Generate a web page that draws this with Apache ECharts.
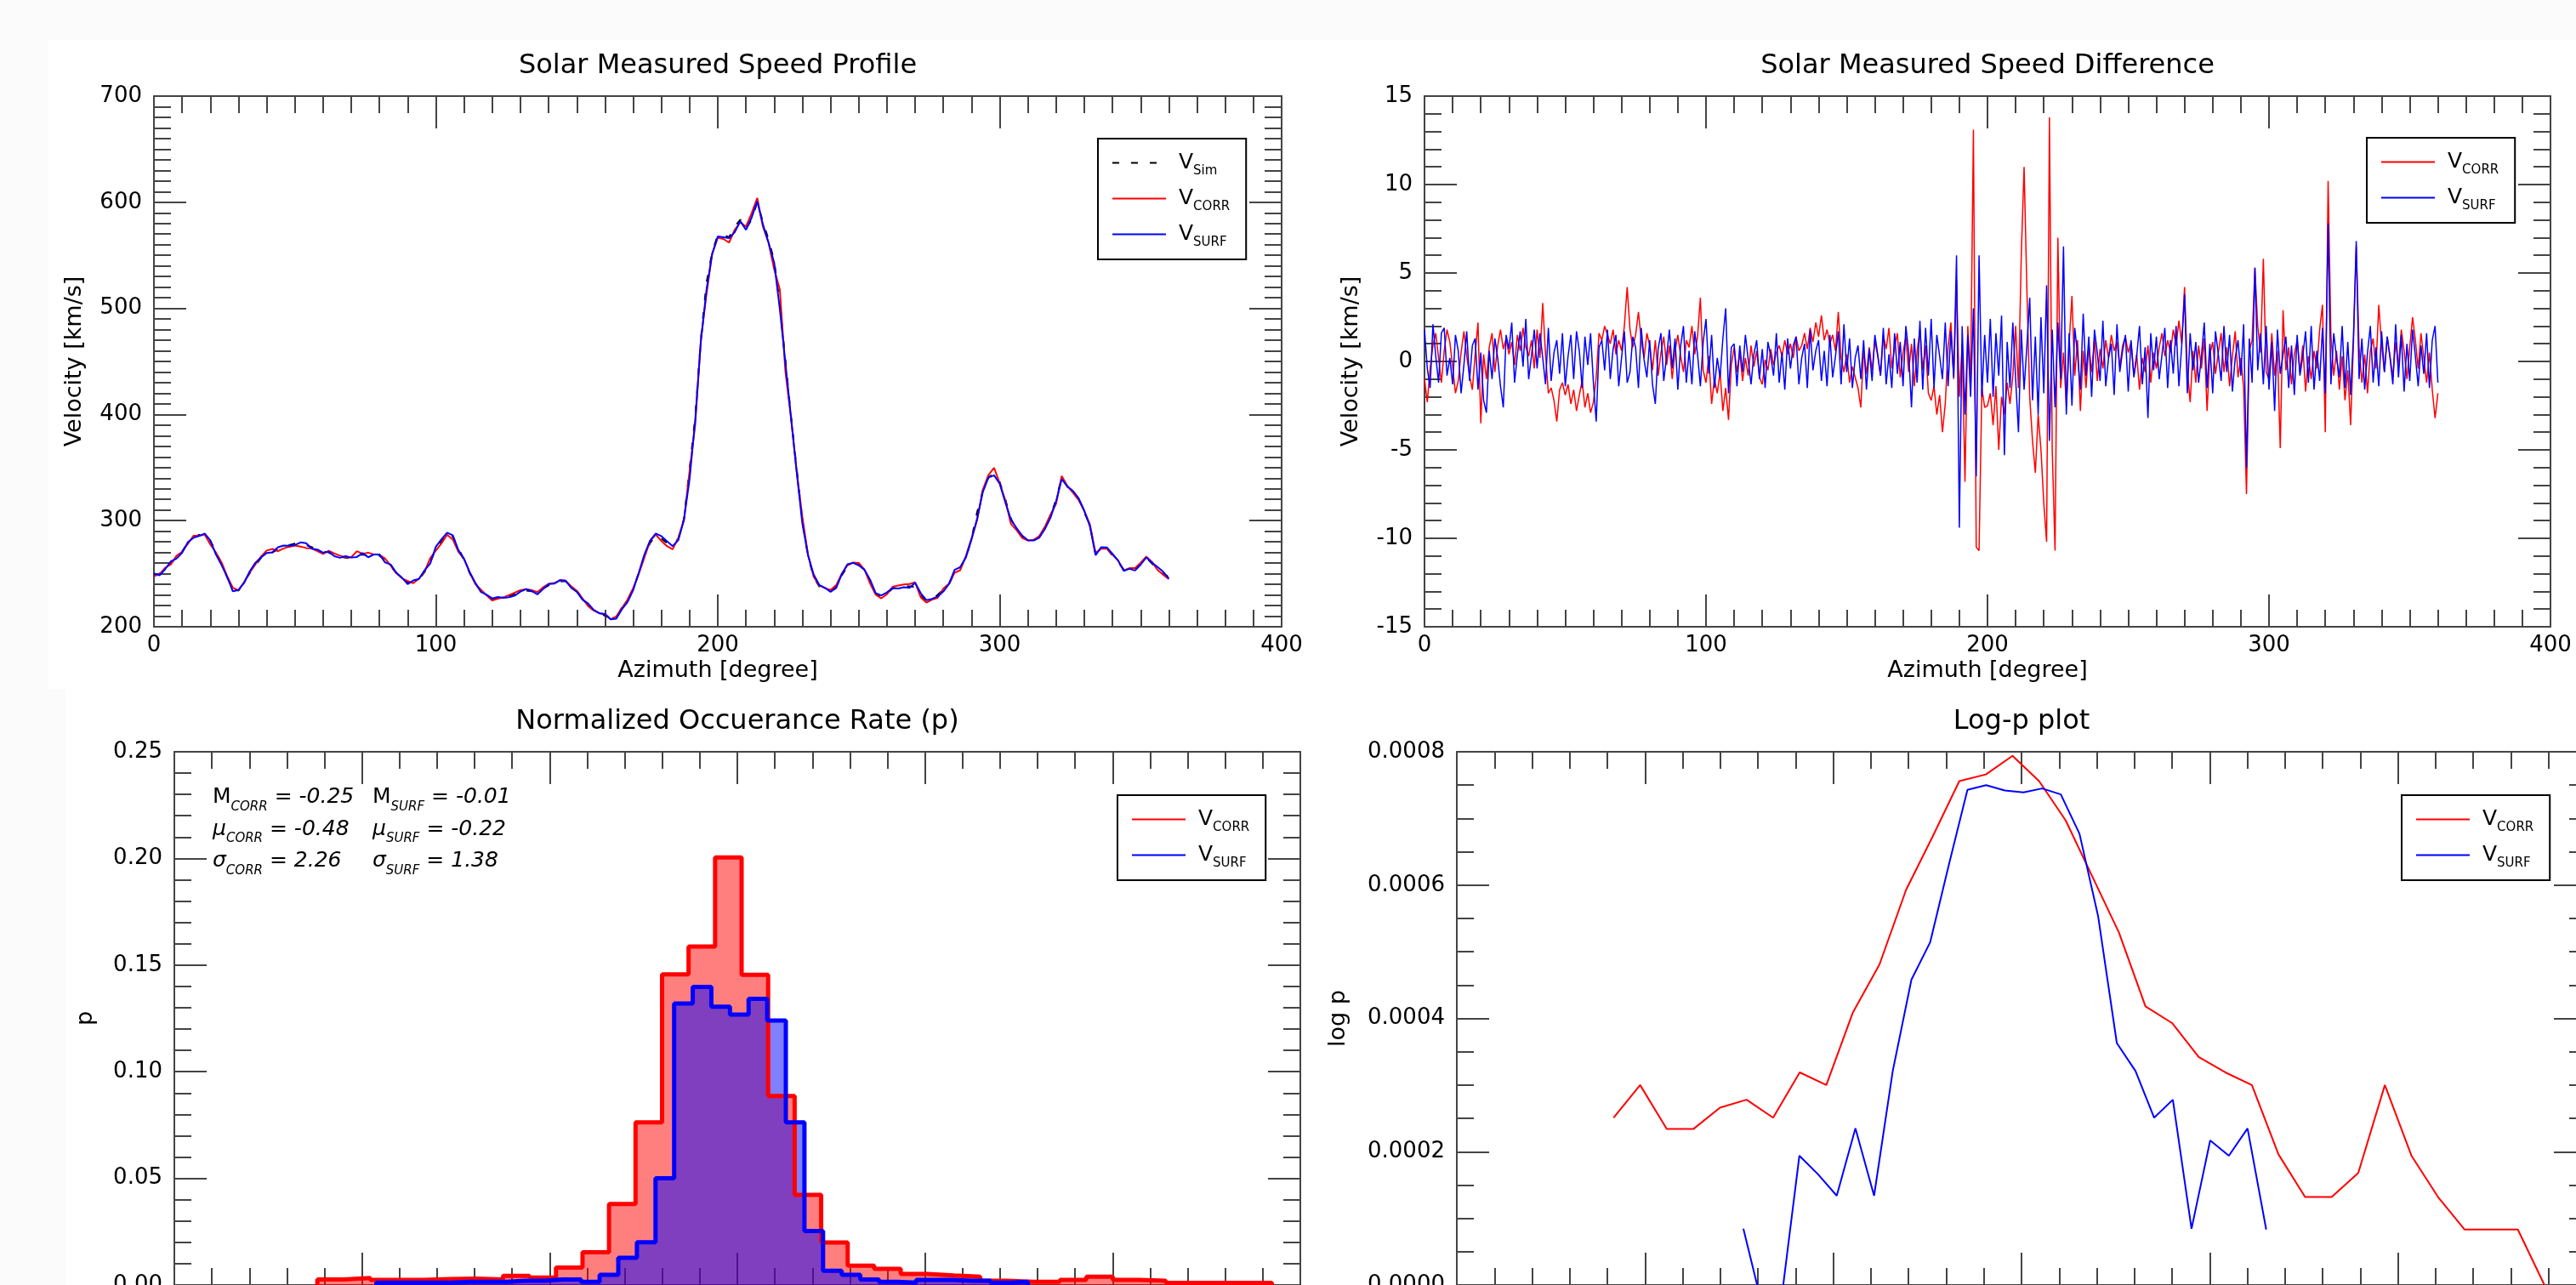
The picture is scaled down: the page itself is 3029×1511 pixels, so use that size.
<!DOCTYPE html>
<html>
<head>
<meta charset="utf-8">
<title>Solar Measured Speed</title>
<script src="https://cdn.jsdelivr.net/npm/echarts@6.0.0/dist/echarts.min.js"></script>
<style>
  html, body { margin: 0; padding: 0; overflow: hidden; background: #fbfbfc; }
  #chart { position: absolute; left: 0; top: 0; width: 3100px; height: 1600px; }
</style>
</head>
<body>
<div id="chart"></div>
<script>
const FONT = 'DejaVu Sans'
const INK = '#000'
const AXIS = '#444'

// speed profile, one sample every 2 degrees (0..360)
const profileStep = 2
const vSim = [
  248.6, 250, 254, 260, 265, 271, 279, 284, 286.6, 286.6,
  281, 271, 259, 246.6, 236, 234, 242.5, 250.6, 258, 265,
  270, 270, 273, 276, 277, 278.4, 278, 277, 275, 273,
  271, 270, 267, 266, 265, 265, 267, 268, 267, 268,
  267, 263, 257, 250.6, 246.6, 241.7, 241.7, 244.5, 251.5, 261,
  273, 281, 288.5, 285, 274, 263, 250.6, 240, 234, 229,
  226, 227, 228, 229, 231, 233.5, 234, 233.5, 232, 236,
  239, 240, 242.5, 243, 238, 233.5, 227, 221, 214.7, 212,
  210.6, 207.8, 209, 218, 224, 236, 250.6, 267, 279, 286,
  283, 279, 277, 283, 301.7, 348.7, 397.7, 471, 524, 553,
  569, 569, 567, 577, 583.6, 575, 583.6, 600, 581.5, 565,
  545, 504, 451, 397.7, 348.7, 299.7, 267, 246.6, 238, 235,
  234, 238, 248.6, 256.8, 259.6, 259.6, 254.7, 242.5, 231, 228,
  231, 236, 237.6, 238, 238, 237.6, 230, 224, 226, 230,
  235, 240, 251.5, 254.7, 265, 283, 308, 328, 341, 344,
  336.4, 320, 301.7, 291.5, 285, 280, 281, 285, 293.5, 303.8,
  320, 340.5, 332, 326, 320, 308, 295.6, 269, 273, 274,
  267, 261, 254, 255.5, 254.7, 259.6, 265, 259.6, 254.7, 250.6,
  246.6
]

// measured minus simulated speed, one sample per degree (0..360)
const dCorr = [
  -1.0, -2.3, -0.4, 0.9, 1.6, 0.2, -1.2, 0.6, 1.8, 1.1,
  -0.3, -1.8, -1.1, 0.5, 1.7, 0.3, -0.8, -1.6, 0.4, 2.2,
  -3.5, 0.4, -1.0, 0.8, 1.6, -0.6, 0.9, 1.8, 0.7, 1.3,
  0.4, 1.1, -0.2, 1.5, 0.6, 1.9, 0.8, 0.3, 1.2, -0.4,
  1.8, 0.2, 3.3, 0.4, -1.8, -1.5, -2.2, -3.4, -1.6, -1.2,
  -1.9, -1.3, -2.4, -1.6, -2.8, -1.9, -1.1, -2.6, -1.8, -2.9,
  -2.3, -0.9, 1.6, 1.2, 2.0, 1.5, 1.0, 1.8, 0.4, 1.2,
  0.6, 2.0, 4.2, 1.8, 0.8, 1.5, 2.8, 1.2, 0.2, 1.6,
  0.9, -0.5, 1.2, -0.8, 0.5, 1.4, -0.2, 0.9, -1.0, 0.6,
  1.5, 0.3, -0.6, 1.2, 0.8, 2.0, 0.4, 1.4, 3.6, -0.5,
  -1.2, 0.3, -2.4, -1.0, -1.8, -0.6, -2.8, -1.5, -3.3, -0.2,
  0.8, -0.6, 0.5, -1.1, 0.2, -0.8, 0.9, -0.3, 0.6, -0.9,
  -1.3, 0.1, -0.5, 0.7, -0.2, 0.5, 0.9, 0.3, 1.2, 0.4,
  1.0, 0.2, 1.4, 0.6, 0.9, 1.6, 0.7, 1.9, 1.1, 2.2,
  1.4, 2.6, 1.2, 1.8, 1.0, 1.5, 0.6, 2.8, 0.2, -0.6,
  0.4, -1.2, -0.3, -0.9, -1.5, -2.6, 0.6, -0.7, 0.8, -0.5,
  1.2, 0.3, -0.8, 1.5, 0.7, 1.9, -0.4, 0.8, 1.6, -0.9,
  0.5, 1.4, -0.6, 1.0, -1.4, 0.6, 1.8, -0.5, 0.9, -1.8,
  -2.2, -1.4, -3.0, -1.9, -4.0, -2.4, 0.8, 2.2, -1.0, 4.6,
  -2.0, 1.0, -6.8, 2.0, -1.0, 13.1, -10.5, -10.7, -1.5, -2.6,
  -2.5, -1.8, -3.6, -1.4, -5.0, -2.0, -3.0, -1.2, -2.4, -0.8,
  2.0, -1.5, 6.0, 11.0, 4.0, -2.0, -4.5, -6.3, -3.0, -5.0,
  -8.0, -10.2, 13.8, -5.0, -10.7, 7.0, -1.5, 0.5, -2.5, 1.0,
  3.7, -0.8, 1.2, -2.8, 0.6, -1.5, 0.9, -0.6, 1.3, -1.1,
  0.7, -0.4, 1.2, 0.2, 1.5, 0.6, 1.1, -0.3, 0.9, 1.4,
  0.5, 1.1, -0.8, 0.4, -1.6, 0.2, -0.6, 0.9, -1.2, 0.5,
  -0.4, 0.8, 1.6, 0.3, 1.2, 0.5, 1.8, 0.9, 2.3, 1.0,
  4.2, -0.5, -2.3, 0.6, -1.2, 0.9, -0.4, 1.3, -2.8, 0.4,
  1.1, -0.7, 0.5, 1.6, -0.6, 0.8, -1.4, 0.3, 1.7, -0.9,
  0.2, -1.5, -7.5, 0.6, 1.2, 5.3, 2.0, 0.5, 5.8, -0.6,
  -1.0, 1.6, -0.8, 0.6, -4.9, 2.9, -0.5, 0.8, -1.3, 0.4,
  1.2, -0.6, 0.9, -1.7, 0.3, -1.0, 0.6, -0.4, 1.8, 3.2,
  -4.0, 10.2, 1.5, -0.8, 0.6, -1.6, 0.3, -2.2, -0.5, -3.6,
  1.0, 6.5, 0.8, -1.2, 0.4, -1.8, 0.6, 1.3, -0.4, 3.2,
  0.9, -0.6, 1.4, 0.3, -0.9, 1.1, -0.3, 1.8, 0.6, -1.0,
  0.8, 2.5, 1.2, -0.4, 1.6, 0.2, -1.2, 0.5, -1.6, -3.2,
  -1.8
]
const dSurf = [
  1.8, -0.4, -1.5, 2.1, 0.3, -1.2, 1.6, 1.9, -0.8, 0.2,
  -1.3, 1.5, 0.6, -1.8, -0.2, 1.7, -1.1, 0.9, 1.3, -1.6,
  0.5, -2.2, -2.9, 0.6, -1.0, 1.3, 0.2, -1.4, -2.6, 1.5,
  0.7, 2.2, -1.2, 0.4, 1.7, -0.3, 2.4, -1.0, 0.3, 1.8,
  -0.4, 1.6, 0.2, -1.3, 1.9, -1.1, 0.5, 1.2, -0.7, 1.6,
  -1.4, 0.3, 1.5, -1.0, 1.7, 0.6, -1.5, 1.4, -0.2, 1.6,
  -1.2, -3.4, 0.8, 1.2, -0.5, 1.8, -1.0, 0.7, 1.5, -1.4,
  0.2, 1.7, -1.2, -0.6, 1.4, 0.8, -1.5, 1.9, 0.1, -0.9,
  1.2, -1.3, -2.4, 0.7, 1.6, -1.1, 0.3, 1.8, -0.4, 1.3,
  -1.6, 0.9, 2.0, -1.2, 0.6, -1.3, 1.7, 0.4, -1.4, 1.1,
  2.4, -0.7, 1.5, -1.5, 0.2, -0.9, 1.3, 3.0, -1.8, 0.8,
  1.0, -1.4, 0.9, -0.6, 1.5, 0.1, -1.3, 0.4, 1.2, -1.0,
  0.7, -1.5, 1.1, 0.3, -0.8, 1.6, -1.2, 0.5, -1.6, 1.3,
  -0.4, 0.9, 1.4, -1.3, 0.2, 1.0, -1.5, 1.8, -0.5, 0.6,
  1.2, -1.1, 0.6, -1.4, 1.5, -0.9, 0.3, 1.7, -1.3, 2.1,
  -0.6, 1.3, -1.5, 0.2, 0.9, -1.0, 1.2, -1.6, 0.7, -1.1,
  1.5, 0.4, -0.8, 1.9, -1.3, 0.4, -1.5, 1.6, -0.7, 1.1,
  -1.4, 2.0, 0.5, -2.6, 1.3, -1.2, 2.3, -1.6, 1.9, -0.8,
  2.4, -1.5, 1.5, 0.3, -1.0, 2.2, -1.4, 1.7, -0.9, 6.0,
  -9.4, 2.0, -3.0, 1.5, -2.0, 3.0, -6.5, 6.0, -2.0, 1.5,
  -1.2, 2.4, -2.0, 1.6, -0.8, 2.6, -5.3, 1.1, -1.5, 2.2,
  -1.0, -4.0, 1.8, -1.6, 0.9, 3.6, -2.2, 1.4, -3.0, 2.5,
  -1.8, 4.3, -4.5, 1.8, -2.6, 2.2, -1.0, 6.5, -3.0, 1.6,
  -2.5, 1.9, 0.4, -1.6, 2.7, -0.8, 1.4, -2.0, 1.8, 0.5,
  -1.1, 2.3, -1.4, 0.2, 1.0, -1.9, 2.1, -0.6, 0.6, 1.5,
  -1.7, 1.2, -0.9, 0.3, 2.0, -1.3, 0.8, -3.2, 1.6, -0.5,
  1.4, -1.0, 0.4, 1.9, -1.5, 1.2, -0.7, 2.0, -1.4, 0.9,
  3.8, -1.8, 1.6, -0.5, 1.1, -1.2, 0.3, 2.2, -1.5, 1.0,
  -1.8, 1.7, 0.4, -1.1, 2.0, -0.6, 1.5, -1.7, 0.2, 1.2,
  -0.8, 2.1, -6.0, 1.3, -1.2, 5.3, -0.5, 1.6, -1.3, 2.0,
  -1.6, 1.1, -2.8, 1.8, -0.7, 0.4, 1.4, -1.5, 0.9, -1.9,
  1.5, -0.8, 0.3, 1.7, -1.2, 2.0, -1.6, 0.6, -1.1, 1.9,
  -1.8, 7.8, -1.3, 1.6, 0.2, -0.9, 2.0, -1.5, 1.1, -1.9,
  1.4, 6.8, -1.0, 1.3, -1.6, 0.5, 2.0, -1.2, 0.8, -1.4,
  1.7, -0.6, 1.4, 0.2, -1.3, 2.1, -0.9, 1.5, -1.7, 1.0,
  -1.1, 1.8, 0.3, -1.4, 0.9, -0.7, 1.6, -1.5, 1.2, 2.0,
  -1.2
]

// normalized occurrence histograms of the differences
const corrBinStart = -11.19
const corrBinWidth = 0.7065
const pCorr = [
  0.0026, 0.0033, 0.0024, 0.0024, 0.0028, 0.0030, 0.0026, 0.0043, 0.0035, 0.0082,
  0.0154, 0.0380, 0.0763, 0.1456, 0.1587, 0.2005, 0.1454, 0.0886, 0.0423, 0.0199,
  0.0091, 0.0076, 0.0052, 0.0045, 0.0039, 0.0020, 0.0015, 0.0015, 0.0024, 0.0039,
  0.0024, 0.0020, 0.0010, 0.0010, 0.0010, 0.0010
]
const surfBinStart = -9.62
const surfBinWidth = 0.496
const pSurf = [
  0.0011, 0.0011, 0.0011, 0.0011, 0.0015, 0.0015, 0.0015, 0.0020, 0.0020, 0.0026,
  0.0026, 0.0015, 0.0048, 0.0128, 0.0200, 0.0500, 0.1320, 0.1398, 0.1305, 0.1268,
  0.1342, 0.1240, 0.0763, 0.0253, 0.0067, 0.0048, 0.0026, 0.0015, 0.0011, 0.0024,
  0.0024, 0.0020, 0.0020, 0.0011, 0.0015
]

// log-p values at bin centres
const logPCorr = [
  0.000251, 0.000300, 0.000234, 0.000234, 0.000266, 0.000278, 0.000251, 0.000319, 0.000300, 0.000409,
  0.000481, 0.000593, 0.000673, 0.000756, 0.000766, 0.000794, 0.000756, 0.000697, 0.000613, 0.000529,
  0.000418, 0.000393, 0.000342, 0.000319, 0.000300, 0.000196, 0.000132, 0.000132, 0.000168, 0.000300,
  0.000194, 0.000132, 0.0000832, 0.0000832, 0.0000832, 0.0
]
const logPSurfFirstBin = 4
const logPSurf = [
  0.0000844, -0.00003, -0.00003, 0.000194, 0.000166, 0.000134, 0.000235, 0.000134, 0.000321, 0.000458,
  0.000514, 0.000630, 0.000743, 0.000750, 0.000742, 0.000739, 0.000745, 0.000736, 0.000677, 0.000553,
  0.000363, 0.000321, 0.000251, 0.000278, 0.0000844, 0.000217, 0.000194, 0.000235, 0.0000832
]

const statNames = ['M', 'μ', 'σ']
const statCorr = [-0.25, -0.48, 2.26]
const statSurf = [-0.01, -0.22, 1.38]

// axis ranges: [min, max, interval]
const azimuthRange = [0, 400, 100]
const speedRange = [200, 700, 100]
const diffRange = [-15, 15, 5]
const pRange = [0, 0.25, 0.05]
const logPRange = [0, 0.0008, 0.0002]

// ---- series data ----
const simData = vSim.map((v, i) => [i * profileStep, v])
const corrData = vSim.map((v, i) => [i * profileStep, +(v + dCorr[i * profileStep]).toFixed(1)])
const surfData = vSim.map((v, i) => [i * profileStep, +(v + dSurf[i * profileStep]).toFixed(1)])
const dCorrData = dCorr.map((d, i) => [i, d])
const dSurfData = dSurf.map((d, i) => [i, d])

function histSteps (start, width, values) {
  const pts = [[start, 0]]
  values.forEach((v, k) => pts.push([start + k * width, v]))
  pts.push([start + values.length * width, 0])
  return pts
}
function binCentres (start, width, firstBin, values) {
  return values.map((v, k) => [start + (firstBin + k + 0.5) * width, v])
}

// ---- axes ----
function valueAxis (gridIndex, range, minorSplit, position, opts = {}) {
  const [min, max, interval] = range
  const labelled = position === 'bottom' || position === 'left'
  const axis = {
    type: 'value', gridIndex, position, min, max, interval,
    axisLine: { show: true, onZero: false, lineStyle: { color: AXIS, width: 2 } },
    axisTick: { show: true, inside: true, length: 38, lineStyle: { color: AXIS, width: 2 } },
    minorTick: { show: true, splitNumber: minorSplit, length: 20, lineStyle: { color: AXIS, width: 2 } },
    splitLine: { show: false },
    minorSplitLine: { show: false },
    axisLabel: {
      show: labelled, color: INK, fontFamily: FONT, fontSize: 26,
      margin: position === 'bottom' ? 9 : 14,
      showMinLabel: true, showMaxLabel: true,
      formatter: opts.formatter
    },
    silent: true
  }
  if (opts.name) {
    axis.name = opts.name
    axis.nameLocation = 'middle'
    axis.nameGap = opts.nameGap
    axis.nameMoveOverlap = false
    axis.nameTextStyle = { color: INK, fontFamily: FONT, fontSize: 27 }
  }
  return axis
}

const xAxes = [
  valueAxis(0, azimuthRange, 10, 'bottom', { name: 'Azimuth [degree]', nameGap: 38 }),
  valueAxis(0, azimuthRange, 10, 'top'),
  valueAxis(1, azimuthRange, 10, 'bottom', { name: 'Azimuth [degree]', nameGap: 38 }),
  valueAxis(1, azimuthRange, 10, 'top'),
  valueAxis(2, diffRange, 5, 'bottom'),
  valueAxis(2, diffRange, 5, 'top'),
  valueAxis(3, diffRange, 5, 'bottom'),
  valueAxis(3, diffRange, 5, 'top')
]
const yAxes = [
  valueAxis(0, speedRange, 10, 'left', { name: 'Velocity [km/s]', nameGap: 80 }),
  valueAxis(0, speedRange, 10, 'right'),
  valueAxis(1, diffRange, 5, 'left', { name: 'Velocity [km/s]', nameGap: 73 }),
  valueAxis(1, diffRange, 5, 'right'),
  valueAxis(2, pRange, 5, 'left', { name: 'p', nameGap: 91, formatter: v => v.toFixed(2) }),
  valueAxis(2, pRange, 5, 'right'),
  valueAxis(3, logPRange, 4, 'left', { name: 'log p', nameGap: 126, formatter: v => v.toFixed(4) }),
  valueAxis(3, logPRange, 4, 'right')
]

// ---- legends (V with a subscript) ----
const legendRich = {
  g: { width: 10 },
  v: { fontFamily: FONT, fontSize: 25, lineHeight: 35, color: INK, verticalAlign: 'middle' },
  s: { fontFamily: FONT, fontSize: 15, lineHeight: 15, color: INK, verticalAlign: 'bottom' }
}
function legendBox (names, left, top) {
  return {
    data: names, orient: 'vertical', left, top,
    padding: [16, 19, 12, 16], itemGap: 12, itemWidth: 63, itemHeight: 4,
    borderColor: '#000', borderWidth: 2, borderRadius: 0, backgroundColor: '#fff',
    itemStyle: { opacity: 0 },
    selectedMode: false,
    formatter: name => {
      const [base, sub] = name.split('_')
      return `{g| }{v|${base}}{s|${sub}}`
    },
    textStyle: { rich: legendRich }
  }
}

// ---- stats annotation ----
const statRich = {
  m: { fontFamily: FONT, fontSize: 25, lineHeight: 37.5, fill: INK, verticalAlign: 'middle' },
  i: { fontFamily: FONT, fontSize: 25, lineHeight: 37.5, fontStyle: 'italic', fill: INK, verticalAlign: 'middle' },
  s: { fontFamily: FONT, fontSize: 15, lineHeight: 17.5, fontStyle: 'italic', fill: INK, verticalAlign: 'bottom' }
}
function statText (sub, values) {
  return statNames.map((n, k) =>
    `{${k === 0 ? 'm' : 'i'}|${n}}{s|${sub}}{m| = }{i|${values[k].toFixed(2)}}`
  ).join('\n')
}

function lineSeries (name, axisIndex, data, color, width, extra = {}) {
  return Object.assign({
    name, type: 'line', xAxisIndex: axisIndex, yAxisIndex: axisIndex, data,
    symbol: 'none', silent: true, animation: false,
    lineStyle: { color, width },
    itemStyle: { color },
    emphasis: { disabled: true }
  }, extra)
}

const titleStyle = { fontFamily: FONT, fontSize: 32, fontWeight: 'normal', color: INK }

const option = {
  backgroundColor: '#fbfbfc',
  animation: false,
  textStyle: { fontFamily: FONT },
  title: [
    { text: 'Solar Measured Speed Profile', left: 844, top: 78 },
    { text: 'Solar Measured Speed Difference', left: 2337, top: 78 },
    { text: 'Normalized Occuerance Rate (p)', left: 867, top: 849 },
    { text: 'Log-p plot', left: 2377, top: 849 }
  ].map(t => Object.assign(t, {
    textAlign: 'center', textVerticalAlign: 'middle', padding: 0, textStyle: titleStyle
  })),
  grid: [
    { left: 181, top: 113, width: 1326, height: 624 },
    { left: 1675, top: 113, width: 1324, height: 624 },
    { left: 205, top: 884, width: 1324, height: 627 },
    { left: 1713, top: 884, width: 1328, height: 627 }
  ].map(g => Object.assign(g, { containLabel: false, outerBoundsMode: 'none' })),
  xAxis: xAxes,
  yAxis: yAxes,
  legend: [
    legendBox(['V_Sim', 'V_CORR', 'V_SURF'], 1291, 163),
    legendBox(['V_CORR', 'V_SURF'], 2783, 162),
    legendBox(['V_CORR', 'V_SURF'], 1314, 935),
    legendBox(['V_CORR', 'V_SURF'], 2824, 935)
  ],
  graphic: [
    { type: 'rect', z: -1, silent: true, shape: { x: 57, y: 47, width: 3100, height: 763 }, style: { fill: '#fff' } },
    { type: 'rect', z: -1, silent: true, shape: { x: 77, y: 810, width: 3100, height: 800 }, style: { fill: '#fff' } },
    { type: 'text', x: 250, y: 919, silent: true, style: { text: statText('CORR', statCorr), rich: statRich, verticalAlign: 'top', fill: INK } },
    { type: 'text', x: 438, y: 919, silent: true, style: { text: statText('SURF', statSurf), rich: statRich, verticalAlign: 'top', fill: INK } }
  ],
  series: [
    // speed profile
    lineSeries('V_Sim', 0, simData, '#000', 2, { lineStyle: { color: '#000', width: 2, type: [8, 14] } }),
    lineSeries('V_CORR', 0, corrData, '#ff0000', 2),
    lineSeries('V_SURF', 0, surfData, '#0000ff', 2),
    // speed difference
    lineSeries('V_CORR', 2, dCorrData, '#ff0000', 1.5),
    lineSeries('V_SURF', 2, dSurfData, '#0000ff', 1.5),
    // histograms: fills first, then outlines
    lineSeries('pCorrFill', 4, histSteps(corrBinStart, corrBinWidth, pCorr), '#ff0000', 1, {
      step: 'end', lineStyle: { opacity: 0 }, areaStyle: { color: '#ff0000', opacity: 0.5 }
    }),
    lineSeries('pSurfFill', 4, histSteps(surfBinStart, surfBinWidth, pSurf), '#0000ff', 1, {
      step: 'end', lineStyle: { opacity: 0 }, areaStyle: { color: '#0000ff', opacity: 0.5 }
    }),
    lineSeries('pCorrLine', 4, histSteps(corrBinStart, corrBinWidth, pCorr), '#ff0000', 5, { step: 'end' }),
    lineSeries('pSurfLine', 4, histSteps(surfBinStart, surfBinWidth, pSurf), '#0000ff', 5, { step: 'end' }),
    // log-p
    lineSeries('V_CORR', 6, binCentres(corrBinStart, corrBinWidth, 0, logPCorr), '#ff0000', 2),
    lineSeries('V_SURF', 6, binCentres(surfBinStart, surfBinWidth, logPSurfFirstBin, logPSurf), '#0000ff', 2)
  ]
}

const chart = echarts.init(document.getElementById('chart'), null, { renderer: 'canvas' })
chart.setOption(option)
window.addEventListener('resize', () => chart.resize())
</script>
</body>
</html>
